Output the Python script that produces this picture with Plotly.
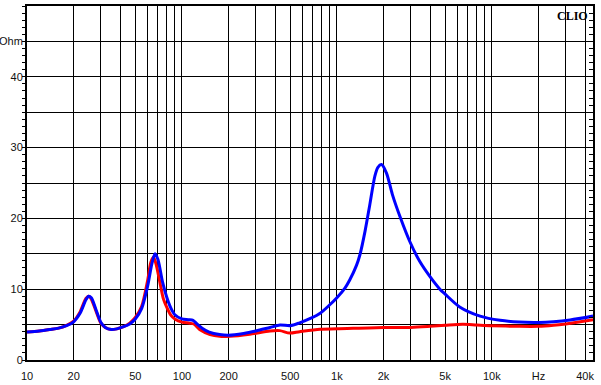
import plotly.graph_objects as go

# ---- data ----
blue_freq = [10, 12, 14, 16, 18, 20, 22, 24, 25, 26, 28, 30, 32, 35, 38, 42, 46, 50, 55, 60, 64, 67, 70, 75, 80, 85, 90,
             100, 110, 118, 125, 135, 150, 175, 200, 250, 300, 370, 430, 500, 575, 680, 780, 900, 1000, 1130, 1210,
             1340, 1410, 1520, 1630, 1760, 1840, 1940, 2090, 2280, 2550, 2960, 3430, 3980, 4620, 5000, 6200, 8400,
             11300, 15000, 20000, 25000, 32000, 45000]
blue_ohm = [3.95, 4.1, 4.3, 4.5, 4.85, 5.4, 6.6, 8.5, 9.0, 8.8, 7.0, 5.3, 4.6, 4.3, 4.4, 4.7, 5.1, 5.8, 7.3, 10.4, 13.6,
            15.0, 14.2, 11.0, 8.8, 7.3, 6.4, 5.8, 5.7, 5.6, 5.1, 4.5, 3.95, 3.6, 3.5, 3.75, 4.1, 4.6, 4.95, 4.85, 5.25,
            5.9, 6.6, 7.8, 8.8, 10.2, 11.3, 13.4, 14.9, 18.2, 21.9, 26.0, 27.2, 27.6, 26.4, 23.4, 20.3, 16.7, 13.9,
            11.8, 10.0, 9.3, 7.5, 6.2, 5.6, 5.35, 5.3, 5.4, 5.65, 6.2]

red_freq = [10, 12, 14, 16, 18, 20, 22, 24, 25, 26, 28, 30, 32, 35, 38, 42, 46, 50, 55, 60, 63, 65.5, 68, 72, 76, 80, 85,
            90, 100, 112, 120, 130, 152, 175, 204, 274, 370, 428, 496, 575, 778, 1000, 2000, 3000, 4000, 5000, 6500,
            8000, 10000, 15000, 20000, 25000, 30000, 40000, 45000]
red_ohm = [3.95, 4.1, 4.3, 4.5, 4.9, 5.5, 6.8, 8.7, 9.0, 8.6, 6.8, 5.2, 4.6, 4.3, 4.4, 4.7, 5.2, 6.0, 7.6, 11.2, 13.8,
           14.5, 13.6, 11.0, 8.6, 7.4, 6.3, 5.8, 5.35, 5.2, 5.05, 4.3, 3.6, 3.35, 3.35, 3.65, 4.1, 4.15, 3.8, 4.0,
           4.35, 4.4, 4.6, 4.6, 4.75, 4.9, 5.05, 4.95, 4.85, 4.75, 4.75, 4.9, 5.1, 5.5, 5.7]

# grid / tick labels
x_grid = [m * 10 ** d for d in range(1, 5) for m in range(1, 10)] + [10000 * m for m in range(2, 5)]
x_labels = {10: "10", 20: "20", 50: "50", 100: "100", 200: "200", 500: "500", 1000: "1k", 2000: "2k",
            5000: "5k", 10000: "10k", 20000: "Hz", 40000: "40k"}
x_ticktext = [x_labels.get(v, "") for v in x_grid]
y_grid = list(range(0, 55, 5))
y_labels = {0: "0", 10: "10", 20: "20", 30: "30", 40: "40", 45: "Ohm", 50: "50"}
y_ticktext = [y_labels.get(v, "") for v in y_grid]

fig = go.Figure()
fig.add_trace(go.Scatter(x=red_freq, y=red_ohm, mode="lines",
                         line=dict(color="#FF0000", width=3, shape="spline", smoothing=0.8),
                         showlegend=False, hoverinfo="skip"))
fig.add_trace(go.Scatter(x=blue_freq, y=blue_ohm, mode="lines",
                         line=dict(color="#0000FF", width=3, shape="spline", smoothing=0.8),
                         showlegend=False, hoverinfo="skip"))
# invisible trace to activate the right-hand axis (inner ticks)
fig.add_trace(go.Scatter(x=[10], y=[0], yaxis="y2", mode="markers", marker=dict(opacity=0),
                         showlegend=False, hoverinfo="skip"))

font = dict(family="Liberation Sans, Arial, sans-serif", size=11, color="#111111")

fig.update_layout(
    width=601, height=385,
    margin=dict(l=27, r=8, t=6, b=25, autoexpand=False),
    paper_bgcolor="white", plot_bgcolor="white",
    font=font,
    xaxis=dict(type="log", range=[1, 4.653], tickmode="array", tickvals=x_grid, ticktext=x_ticktext,
               showgrid=True, gridcolor="black", gridwidth=1, ticks="", zeroline=False, automargin=False,
               ticklabelstandoff=5,
               showline=True, linecolor="black", linewidth=2, mirror=True, tickfont=font),
    yaxis=dict(range=[0, 50], tickmode="array", tickvals=y_grid, ticktext=y_ticktext, automargin=False,
               showgrid=True, gridcolor="black", gridwidth=1, ticks="outside", ticklen=3, tickcolor="black",
               ticklabelstandoff=-3,
               minor=dict(dtick=1, ticks="outside", ticklen=3, tickcolor="black", showgrid=False),
               zeroline=False, showline=True, linecolor="black", linewidth=2, mirror=True, tickfont=font),
    yaxis2=dict(range=[0, 50], overlaying="y", side="right", showgrid=False, showticklabels=False,
                automargin=False, tickmode="linear", dtick=1, ticks="inside", ticklen=4, tickcolor="black",
                zeroline=False),
    annotations=[dict(text="<b>CLIO</b>", xref="paper", yref="paper", x=0.995, y=1, xanchor="right",
                      yanchor="top", yshift=-1, showarrow=False,
                      font=dict(family="Liberation Serif, Times New Roman, serif", size=12, color="black"))],
)

fig.write_html("out.html", config={"displayModeBar": False, "staticPlot": True},
               post_script="document.body.style.margin='0';document.body.style.overflow='hidden';")
